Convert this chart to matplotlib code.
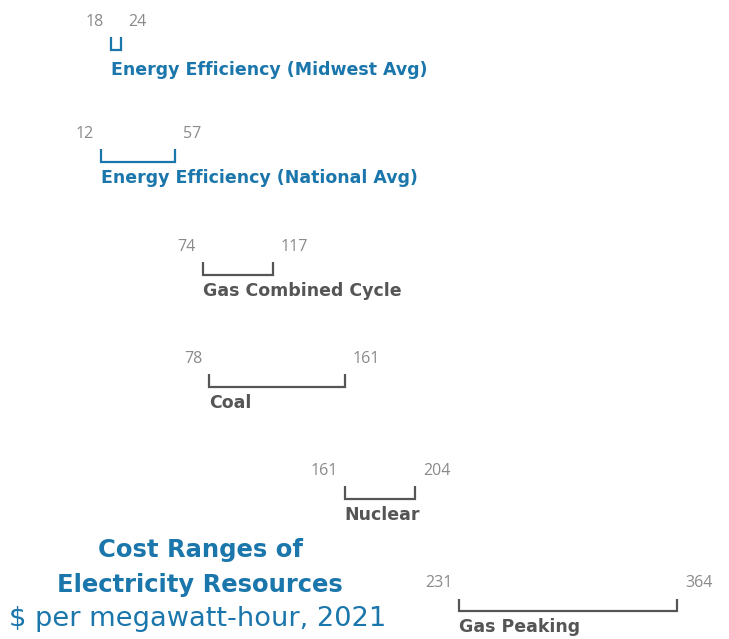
import matplotlib
matplotlib.use("Agg")
import matplotlib.pyplot as plt

# data: cost ranges, $ per MWh (2021)
resources = ["Energy Efficiency (Midwest Avg)", "Energy Efficiency (National Avg)",
             "Gas Combined Cycle", "Coal", "Nuclear", "Gas Peaking"]
low_cost = [18, 12, 74, 78, 161, 231]
high_cost = [24, 57, 117, 161, 204, 364]
highlight = [True, True, False, False, False, False]

BLUE = "#1a76ab"
DARK = "#555555"
LIGHT = "#8a8a8a"
FONT = "DejaVu Sans"
NUMFONT = "Open Sans"

fig = plt.figure(figsize=(7.29, 6.39), dpi=100)
ax = fig.add_axes([0, 0, 1, 1])
ax.set_xlim(-49.8, 395.8)
ax.set_ylim(5.245, -0.445)
ax.axis("off")

tick_h = 0.115  # bracket tick height in row units

for i, (name, lo, hi, hl) in enumerate(zip(resources, low_cost, high_cost, highlight)):
    c = BLUE if hl else DARK
    ax.plot([lo, lo, hi, hi], [i - tick_h, i, i, i - tick_h], color=c, lw=1.6,
            solid_joinstyle="miter", solid_capstyle="butt")
    ax.annotate(str(lo), (lo, i), xytext=(-7, 28), textcoords="offset pixels",
                ha="right", va="center", color=LIGHT, fontsize=11.5, family=NUMFONT)
    ax.annotate(str(hi), (hi, i), xytext=(8, 28), textcoords="offset pixels",
                ha="left", va="center", color=LIGHT, fontsize=11.5, family=NUMFONT)
    dy = -20 if i == 0 else -16
    ax.annotate(name, (lo, i), xytext=(0, dy), textcoords="offset pixels",
                ha="left", va="center", color=c, fontsize=12.5, family=FONT,
                fontweight="bold")

fig.text(200 / 729, 1 - 550 / 639, "Cost Ranges of", ha="center", va="center",
         color=BLUE, fontsize=17.5, family=FONT, fontweight="bold")
fig.text(200 / 729, 1 - 585 / 639, "Electricity Resources", ha="center", va="center",
         color=BLUE, fontsize=17.5, family=FONT, fontweight="bold")
fig.text(198 / 729, 1 - 619 / 639, "$ per megawatt-hour, 2021", ha="center", va="center",
         color=BLUE, fontsize=19.6, family=FONT)

fig.savefig("out.png", dpi=100, facecolor="white")
